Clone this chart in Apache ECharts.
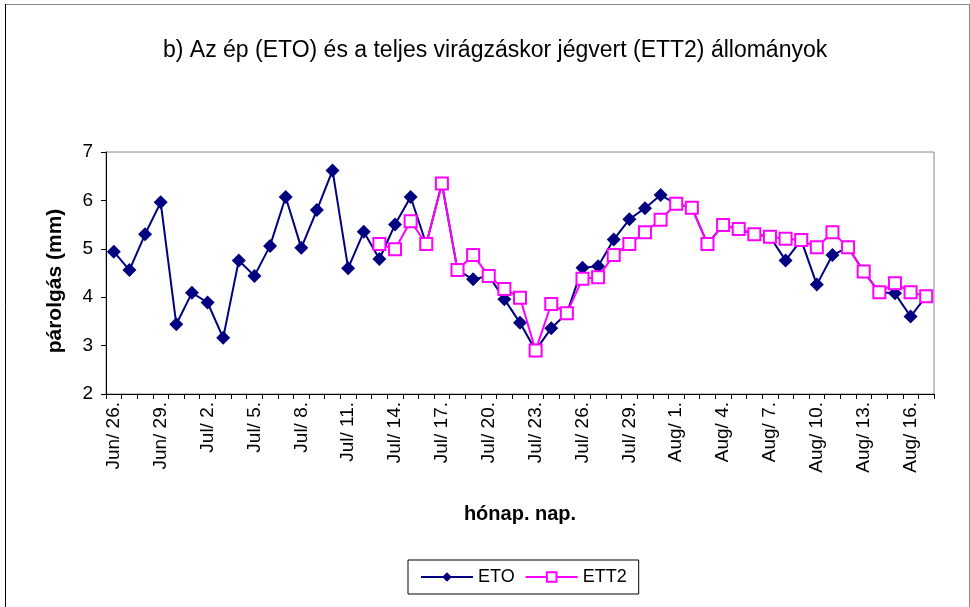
<!DOCTYPE html>
<html>
<head>
<meta charset="utf-8">
<script src="https://cdn.jsdelivr.net/npm/echarts@6/dist/echarts.min.js"></script>
<style>
  html, body { margin: 0; padding: 0; background: #fff; }
  #main { width: 970px; height: 607px; }
</style>
</head>
<body>
<div id="main"></div>
<script>
// dates on the x axis
const days = [
  'Jun/ 26.', 'Jun/ 27.', 'Jun/ 28.', 'Jun/ 29.', 'Jun/ 30.',
  'Jul/ 1.', 'Jul/ 2.', 'Jul/ 3.', 'Jul/ 4.', 'Jul/ 5.', 'Jul/ 6.', 'Jul/ 7.', 'Jul/ 8.',
  'Jul/ 9.', 'Jul/ 10.', 'Jul/ 11.', 'Jul/ 12.', 'Jul/ 13.', 'Jul/ 14.', 'Jul/ 15.', 'Jul/ 16.',
  'Jul/ 17.', 'Jul/ 18.', 'Jul/ 19.', 'Jul/ 20.', 'Jul/ 21.', 'Jul/ 22.', 'Jul/ 23.', 'Jul/ 24.',
  'Jul/ 25.', 'Jul/ 26.', 'Jul/ 27.', 'Jul/ 28.', 'Jul/ 29.', 'Jul/ 30.', 'Jul/ 31.',
  'Aug/ 1.', 'Aug/ 2.', 'Aug/ 3.', 'Aug/ 4.', 'Aug/ 5.', 'Aug/ 6.', 'Aug/ 7.', 'Aug/ 8.',
  'Aug/ 9.', 'Aug/ 10.', 'Aug/ 11.', 'Aug/ 12.', 'Aug/ 13.', 'Aug/ 14.', 'Aug/ 15.', 'Aug/ 16.', 'Aug/ 17.'
];

// ép állomány
const eto = [
  4.94, 4.56, 5.30, 5.96, 3.44,
  4.09, 3.89, 3.16, 4.76, 4.44, 5.06, 6.07, 5.02,
  5.80, 6.62, 4.60, 5.35, 4.79, 5.50, 6.07, 5.10,
  6.35, 4.56, 4.37, 4.44, 3.96, 3.47, 2.90, 3.36,
  3.67, 4.61, 4.64, 5.19, 5.61, 5.84, 6.11,
  5.93, 5.85, 5.10, 5.49, 5.41, 5.30, 5.25, 4.76,
  5.18, 4.26, 4.87, 5.03, 4.53, 4.10, 4.08, 3.60, 4.02
];

// jégvert állomány (csak júl. 13-tól)
const ett2 = [
  null, null, null, null, null,
  null, null, null, null, null, null, null, null,
  null, null, null, null, 5.10, 4.99, 5.57, 5.10,
  6.35, 4.56, 4.87, 4.44, 4.17, 3.99, 2.90, 3.86,
  3.67, 4.38, 4.41, 4.87, 5.10, 5.34, 5.60,
  5.93, 5.85, 5.10, 5.49, 5.41, 5.30, 5.25, 5.21,
  5.18, 5.03, 5.34, 5.03, 4.53, 4.10, 4.29, 4.10, 4.02
];

const chart = echarts.init(document.getElementById('main'));
const font = 'Liberation Sans, Arial, sans-serif';

const option = {
  backgroundColor: '#fff',
  animation: false,
  textStyle: { fontFamily: font, color: '#000' },
  title: {
    text: 'b) Az ép (ETO) és a teljes virágzáskor jégvert (ETT2) állományok',
    left: 158,
    top: 34,
    textStyle: { fontFamily: font, fontSize: 23, fontWeight: 'normal', color: '#000' }
  },
  legend: {
    left: 408,
    top: 560,
    width: 228,
    padding: [8, 12],
    itemGap: 10,
    itemWidth: 52,
    itemHeight: 12,
    borderColor: '#000',
    borderWidth: 1,
    borderRadius: 0,
    textStyle: { fontFamily: font, fontSize: 18, color: '#000' },
    data: ['ETO', 'ETT2']
  },
  grid: {
    left: 106,
    right: 36,
    top: 152,
    bottom: 213,
    show: true,
    borderColor: '#888',
    borderWidth: 1,
    backgroundColor: '#fff'
  },
  xAxis: {
    type: 'category',
    data: days,
    boundaryGap: true,
    name: 'hónap. nap.',
    nameLocation: 'middle',
    nameGap: 110,
    nameTextStyle: { fontFamily: font, fontSize: 20, fontWeight: 'bold', color: '#000' },
    axisLine: { lineStyle: { color: '#000', width: 1 } },
    axisTick: { show: true, interval: 0, length: 5, inside: false, lineStyle: { color: '#000' } },
    axisLabel: {
      interval: 2,
      rotate: 90,
      fontFamily: font,
      fontSize: 19,
      color: '#000',
      margin: 8
    },
    splitLine: { show: false }
  },
  yAxis: {
    type: 'value',
    min: 2,
    max: 7,
    interval: 1,
    name: 'párolgás (mm)',
    nameLocation: 'middle',
    nameGap: 40,
    nameTextStyle: { fontFamily: font, fontSize: 21, fontWeight: 'bold', color: '#000', padding: [0, 16, 0, 0] },
    axisLine: { show: true, lineStyle: { color: '#000', width: 1 } },
    axisTick: { show: true, length: 5, lineStyle: { color: '#000' } },
    axisLabel: { fontFamily: font, fontSize: 19, color: '#000', margin: 13 },
    splitLine: { show: false }
  },
  series: [
    {
      name: 'ETO',
      type: 'line',
      data: eto,
      symbol: 'diamond',
      symbolSize: 14,
      showAllSymbol: true,
      lineStyle: { color: '#000080', width: 2 },
      itemStyle: { color: '#000080', borderColor: '#000080', borderWidth: 0 },
      z: 2
    },
    {
      name: 'ETT2',
      type: 'line',
      data: ett2,
      symbol: 'rect',
      symbolSize: 12,
      showAllSymbol: true,
      connectNulls: false,
      lineStyle: { color: '#ff00ff', width: 2 },
      itemStyle: { color: '#fff', borderColor: '#ff00ff', borderWidth: 2 },
      z: 3
    }
  ],
  graphic: [
    { type: 'line', shape: { x1: 5, y1: 4.5, x2: 969, y2: 4.5 }, style: { stroke: '#888', lineWidth: 1 } },
    { type: 'line', shape: { x1: 5.5, y1: 4, x2: 5.5, y2: 607 }, style: { stroke: '#000', lineWidth: 1 } },
    { type: 'line', shape: { x1: 969.5, y1: 4, x2: 969.5, y2: 607 }, style: { stroke: '#888', lineWidth: 1 } }
  ]
};

chart.setOption(option);
</script>
</body>
</html>
